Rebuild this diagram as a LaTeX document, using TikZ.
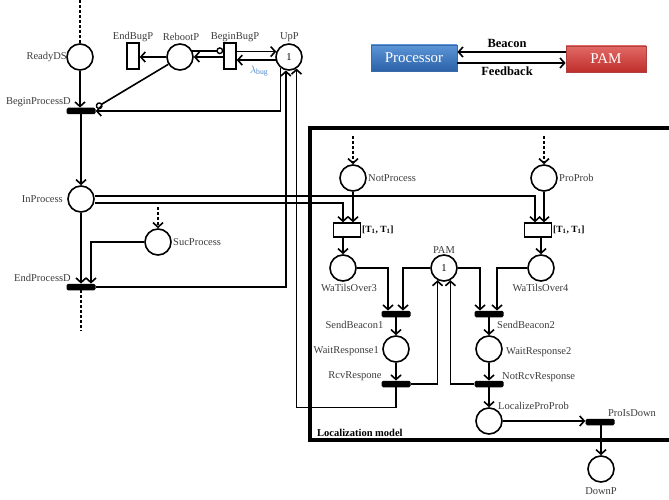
\documentclass[tikz,border=0pt]{standalone}
\usepackage{fontspec}
\setmainfont{Liberation Serif}
\usetikzlibrary{arrows.meta}
\definecolor{lblgray}{HTML}{3C3C3C}
\definecolor{lamblue}{HTML}{4A86C8}
\definecolor{proctop}{HTML}{5C95D8}
\definecolor{procbot}{HTML}{2C62A8}
\definecolor{procedge}{HTML}{3A6AA8}
\definecolor{pamtop}{HTML}{E26A66}
\definecolor{pambot}{HTML}{BE2E2A}
\definecolor{pamedge}{HTML}{B04040}
\begin{document}
\begin{tikzpicture}[x=1pt,y=-1pt,
  place/.style={circle,draw,line width=1.6pt,minimum size=26pt,inner sep=0pt,font=\fontsize{10.5}{10.5}\selectfont},
  vtr/.style={draw,line width=1.4pt,minimum width=12pt,minimum height=26pt,inner sep=0pt},
  htr/.style={draw,line width=1.4pt,minimum width=27pt,minimum height=14pt,inner sep=0pt},
  bar/.style={fill=black,minimum width=29pt,minimum height=6.5pt,inner sep=0pt,rounded corners=1.5pt},
  lbl/.style={text=lblgray,font=\fontsize{10.5}{11}\selectfont,inner sep=0pt},
  blbl/.style={text=black,font=\bfseries\fontsize{12.5}{13}\selectfont,inner sep=0pt},
  arc/.style={line width=1.6pt,-{Straight Barb[length=4.5pt,width=10pt,line width=1.6pt]}},
  plain/.style={line width=1.6pt},
  inh/.style={line width=1.6pt,-{Circle[open,length=7pt,width=7pt,line width=1.4pt]}},
  dsh/.style={line width=1.6pt,dashed,dash pattern=on 3pt off 2pt},
  dsharc/.style={dsh,-{Straight Barb[length=4.5pt,width=10pt,line width=1.6pt,sep=0pt]}},
  box/.style={minimum width=86pt,minimum height=26pt,inner sep=0pt,text=white,font=\fontsize{15}{15}\selectfont}
]
\useasboundingbox (0,0) rectangle (669,500);

% ---------- left part ----------
\node[place] (ReadyDS) at (80,57) {};
\node[vtr] (EndBugP) at (133,56) {};
\node[place] (RebootP) at (180,57) {};
\node[vtr] (BeginBugP) at (230,56) {};
\node[place] (UpP) at (289,57) {1};
\node[bar] (BeginProcessD) at (81,111) {};
\node[place] (InProcess) at (81,199) {};
\node[place] (SucProcess) at (158,242) {};
\node[bar] (EndProcessD) at (81,287) {};
\coordinate (topR) at (80,0);
\coordinate (botE) at (81,331);
\coordinate (topS) at (158,207);

\node[lbl,anchor=east] (lReady) at (67,57) {ReadyDS};
\node[lbl] (lEndBug) at (133,37) {EndBugP};
\node[lbl] (lReboot) at (181,37) {RebootP};
\node[lbl] (lBeginBug) at (235,37) {BeginBugP};
\node[lbl] (lUp) at (289.5,37) {UpP};
\node[lbl,anchor=east] (lBPD) at (71,102) {BeginProcessD};
\node[lbl,anchor=east] (lIn) at (63,199) {InProcess};
\node[lbl,anchor=west] (lSuc) at (173,242) {SucProcess};
\node[lbl,anchor=east] (lEPD) at (71,278) {EndProcessD};
\node[text=lamblue,inner sep=0pt,font=\fontsize{11}{11}\selectfont] (lLam) at (259,71) {$\lambda_{\mathrm{bug}}$};

\draw[dsh] (topR) -- (ReadyDS.north);
\draw[arc] (ReadyDS) -- (BeginProcessD.north -| ReadyDS);
\draw[arc] (BeginProcessD) -- (InProcess);
\draw[arc] (InProcess) -- (EndProcessD.north -| InProcess);
\draw[dsh] (EndProcessD.south) -- (botE);
\draw[dsharc] (topS) -- (SucProcess.north);
\draw[arc] (SucProcess.west) -| ([xshift=10pt]EndProcessD.north);

\draw[arc] (RebootP.west) -- (EndBugP.east |- RebootP.west);
\draw[arc] (BeginBugP.west |- RebootP.east) -- (RebootP.east);
\draw[inh] (RebootP.27) -- (BeginBugP.west |- RebootP.27);
\draw[arc] (BeginBugP.east |- UpP.157) -- (UpP.157);
\draw[arc] (UpP.193) -- (BeginBugP.east |- UpP.193);
\draw[inh] (RebootP.212) -- ([xshift=0.5pt,yshift=0pt]BeginProcessD.north east);
\draw[arc] (UpP.232) |- (BeginProcessD.east);
\draw[arc] (EndProcessD.east) -| (UpP.257);

% ---------- top right ----------
\node[box,draw=procedge,line width=0.8pt,top color=proctop,bottom color=procbot] (Proc) at (414,58) {Processor};
\node[box,minimum width=80pt,draw=pamedge,line width=0.8pt,top color=pamtop,bottom color=pambot] (PAMb) at (606,59) {PAM};
\draw[arc] (PAMb.west |- 0,52) -- (Proc.east |- 0,52);
\draw[arc] (Proc.east |- 0,63) -- (PAMb.west |- 0,63);
\node[blbl] (lBeacon) at (507,43) {Beacon};
\node[blbl] (lFeed) at (507,71) {Feedback};

% ---------- localization model ----------
\draw[line width=3.5pt] (669,128) -- (310,128) -- (310,440) -- (669,440);
\node[blbl,anchor=west,font=\bfseries\fontsize{10.5}{11}\selectfont] (lLoc) at (317,433) {Localization model};

\node[place] (NotProcess) at (353,178) {};
\node[place] (ProProb) at (544,178) {};
\node[htr] (T1) at (347,230) {};
\node[htr] (T2) at (538,230) {};
\node[place] (WaTilsOver3) at (343,268) {};
\node[place] (PAM) at (444,268) {1};
\node[place] (WaTilsOver4) at (541,268) {};
\node[bar] (SendBeacon1) at (396,314) {};
\node[place] (WaitResponse1) at (396,349) {};
\node[bar] (RcvRespone) at (396,384) {};
\node[bar] (SendBeacon2) at (489,314) {};
\node[place] (WaitResponse2) at (489,349) {};
\node[bar] (NotRcvResponse) at (489,384) {};
\node[place] (LocalizeProProb) at (489,421) {};
\node[bar] (ProIsDown) at (600,422) {};
\node[place] (DownP) at (601,469) {};
\coordinate (topN) at (353,136);
\coordinate (topP) at (544,136);

\node[lbl,anchor=west] (lNot) at (368,178) {NotProcess};
\node[lbl,anchor=west] (lPro) at (559,178) {ProProb};
\node[blbl,anchor=west,font=\bfseries\fontsize{9.5}{10}\selectfont] (lT1) at (362,230) {[T$_{\mathbf 1}$, T$_{\mathbf 1}$]};
\node[blbl,anchor=west,font=\bfseries\fontsize{9.5}{10}\selectfont] (lT2) at (553,230) {[T$_{\mathbf 1}$, T$_{\mathbf 1}$]};
\node[lbl] (lPAM) at (444,250) {PAM};
\node[lbl] (lW3) at (349,288) {WaTilsOver3};
\node[lbl] (lW4) at (540.5,288) {WaTilsOver4};
\node[lbl] (lSB1) at (354.5,325) {SendBeacon1};
\node[lbl,anchor=east] (lWR1) at (379,351) {WaitResponse1};
\node[lbl] (lRcv) at (355,376) {RcvRespone};
\node[lbl,anchor=west] (lSB2) at (497,325) {SendBeacon2};
\node[lbl,anchor=west] (lWR2) at (506,352) {WaitResponse2};
\node[lbl,anchor=west] (lNRR) at (502,377) {NotRcvResponse};
\node[lbl,anchor=west] (lLPP) at (498,406) {LocalizeProProb};
\node[lbl] (lPID) at (632,413) {ProIsDown};
\node[lbl] (lDown) at (601,491) {DownP};

\draw[dsharc] (topN) -- (NotProcess.north);
\draw[dsharc] (topP) -- (ProProb.north);
\draw[arc] (NotProcess) -- (NotProcess |- T1.north);
\draw[arc] (ProProb) -- (ProProb |- T2.north);
\draw[arc] ([yshift=-4pt]InProcess.east) -| (WaTilsOver3 |- T1.north);
\draw[arc] ([yshift=3pt]InProcess.east) -| ([xshift=-3pt]T2.north);
\draw[arc] (WaTilsOver3 |- T1.south) -- (WaTilsOver3);
\draw[arc] (WaTilsOver4 |- T2.south) -- (WaTilsOver4);

\draw[arc] (WaTilsOver3.east) -| ([xshift=-8pt]SendBeacon1.north);
\draw[arc] (PAM.west) -| ([xshift=7pt]SendBeacon1.north);
\draw[arc] (PAM.east) -| ([xshift=-9pt]SendBeacon2.north);
\draw[arc] (WaTilsOver4.west) -| ([xshift=8pt]SendBeacon2.north);
\draw[arc] (SendBeacon1) -- (WaitResponse1);
\draw[arc] (WaitResponse1) -- (RcvRespone.north);
\draw[arc] (SendBeacon2) -- (WaitResponse2);
\draw[arc] (WaitResponse2) -- (NotRcvResponse.north);
\draw[arc] (NotRcvResponse) -- (LocalizeProProb);
\draw[arc] (RcvRespone.east) -| (PAM.242);
\draw[arc] (NotRcvResponse.west) -| (PAM.298);
\draw[arc] (RcvRespone.south) -- ++(0,20) -| (UpP.303);
\draw[arc] (LocalizeProProb.east) -- (ProIsDown.west |- LocalizeProProb.east);
\draw[arc] (ProIsDown.south -| DownP) -- (DownP);
\end{tikzpicture}
\end{document}
